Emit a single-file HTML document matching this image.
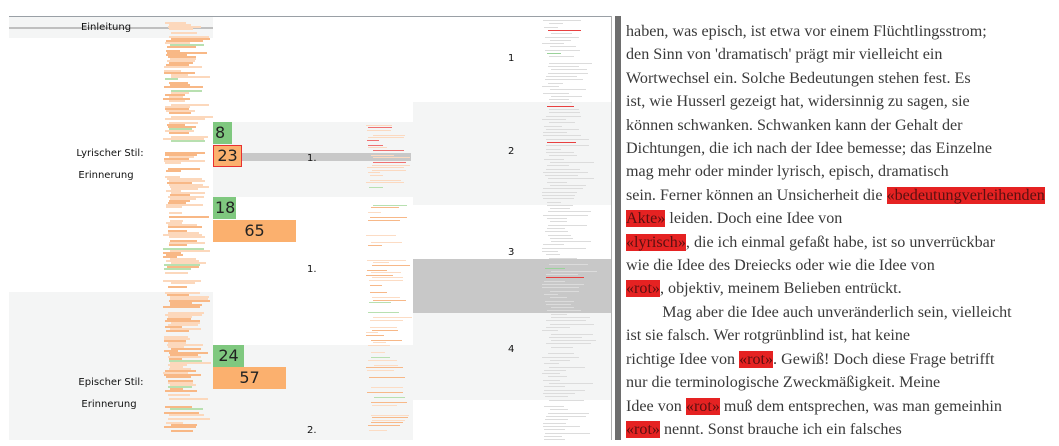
<!DOCTYPE html>
<html><head><meta charset="utf-8"><style>
html,body{margin:0;padding:0;width:1059px;height:446px;overflow:hidden;background:#fff;position:relative}
.a{position:absolute}
.lbl{font-family:"DejaVu Sans","Liberation Sans",sans-serif;font-size:10px;color:#111;text-align:center;width:120px}
.num{font-family:"DejaVu Sans","Liberation Sans",sans-serif;font-size:10px;color:#111}
.box{font-family:"DejaVu Sans","Liberation Sans",sans-serif;font-size:16px;color:#222;line-height:22px}
#txt{position:absolute;left:626px;top:20px;font-family:"Liberation Serif",serif;font-size:16.1px;line-height:23.4px;color:#3a3a3a;white-space:nowrap}
.h{background:#e52222;color:#5a1010}
</style></head><body>
<div class="a" style="left:9px;top:16px;width:602px;height:1px;background:#9aa0a6"></div>
<div class="a" style="left:9px;top:17px;width:204px;height:21px;background:#f4f5f5"></div>
<div class="a" style="left:9px;top:27px;width:204px;height:2px;background:#c0c0c0"></div>
<div class="a" style="left:213px;top:122px;width:200px;height:75px;background:#f4f5f5"></div>
<div class="a" style="left:413px;top:102px;width:198px;height:103px;background:#f4f5f5"></div>
<div class="a" style="left:9px;top:292px;width:204px;height:148px;background:#f4f5f5"></div>
<div class="a" style="left:213px;top:345px;width:200px;height:95px;background:#f4f5f5"></div>
<div class="a" style="left:413px;top:313px;width:198px;height:87px;background:#f4f5f5"></div>
<div class="a" style="left:413px;top:259px;width:198px;height:54px;background:#c8c8c8"></div>
<div class="a" style="left:242px;top:153px;width:169px;height:8px;background:#c8c8c8"></div>
<div id="sk"></div>
<div class="a box" style="left:213px;top:122px;width:17px;height:22px;background:#7fc87f;padding-left:2px">8</div>
<div class="a box" style="left:213px;top:145px;width:27px;height:20px;background:#fbb06e;border:1px solid #e83030;line-height:20px;text-align:center">23</div>
<div class="a box" style="left:213px;top:197px;width:23px;height:22px;background:#7fc87f;padding-left:2px;box-sizing:border-box">18</div>
<div class="a box" style="left:213px;top:220px;width:83px;height:22px;background:#fbb06e;text-align:center">65</div>
<div class="a box" style="left:213px;top:345px;width:31px;height:22px;background:#7fc87f;text-align:center">24</div>
<div class="a box" style="left:213px;top:367px;width:73px;height:22px;background:#fbb06e;text-align:center">57</div>
<div class="a lbl" style="left:46px;top:22px">Einleitung</div>
<div class="a lbl" style="left:50px;top:148px">Lyrischer Stil:</div>
<div class="a lbl" style="left:46px;top:170px">Erinnerung</div>
<div class="a lbl" style="left:51px;top:377px">Epischer Stil:</div>
<div class="a lbl" style="left:49px;top:399px">Erinnerung</div>
<div class="a num" style="left:307px;top:153px">1.</div>
<div class="a num" style="left:307px;top:264px">1.</div>
<div class="a num" style="left:307px;top:425px">2.</div>
<div class="a num" style="left:508px;top:53px">1</div>
<div class="a num" style="left:508px;top:146px">2</div>
<div class="a num" style="left:508px;top:247px">3</div>
<div class="a num" style="left:508px;top:344px">4</div>
<div class="a" style="left:611px;top:16px;width:1px;height:424px;background:#b0b0b0"></div>
<div class="a" style="left:615px;top:16px;width:6px;height:424px;background:#6e6e6e"></div>
<div id="txt">haben, was episch, ist etwa vor einem Flüchtlingsstrom;<br>den Sinn von 'dramatisch' prägt mir vielleicht ein<br>Wortwechsel ein. Solche Bedeutungen stehen fest. Es<br>ist, wie Husserl gezeigt hat, widersinnig zu sagen, sie<br>können schwanken. Schwanken kann der Gehalt der<br>Dichtungen, die ich nach der Idee bemesse; das Einzelne<br>mag mehr oder minder lyrisch, episch, dramatisch<br>sein. Ferner können an Unsicherheit die <span class="h">«bedeutungverleihenden</span><br><span class="h">Akte»</span> leiden. Doch eine Idee von<br><span class="h">«lyrisch»</span>, die ich einmal gefaßt habe, ist so unverrückbar<br>wie die Idee des Dreiecks oder wie die Idee von<br><span class="h">«rot»</span>, objektiv, meinem Belieben entrückt.<br>&nbsp;&nbsp;&nbsp;&nbsp;&nbsp;&nbsp;&nbsp;&nbsp;&nbsp;Mag aber die Idee auch unveränderlich sein, vielleicht<br>ist sie falsch. Wer rotgrünblind ist, hat keine<br>richtige Idee von <span class="h">«rot»</span>. Gewiß! Doch diese Frage betrifft<br>nur die terminologische Zweckmäßigkeit. Meine<br>Idee von <span class="h">«rot»</span> muß dem entsprechen, was man gemeinhin<br><span class="h">«rot»</span> nennt. Sonst brauche ich ein falsches</div>
<script>
var s=7;function r(){s=(s*16807)%2147483647;return s/2147483647;}
var h='';
function col(x0,w,y0,y1,step,ht,skip,fn){for(var y=y0;y<y1;y+=step){if(r()<skip)continue;var len=w*(0.3+0.7*r());var x=x0+r()*w*0.2;var c=fn(y);h+='<div class="a" style="left:'+x.toFixed(0)+'px;top:'+y.toFixed(0)+'px;width:'+len.toFixed(0)+'px;height:'+ht+'px;background:'+c+'"></div>';}}
col(163,42,20,432,2,1.5,0.2,function(y){var q=r();if(y<34&&q<0.6)return '#ef6b6b';if(q<0.08)return '#b8e0b0';return q<0.55?'#f8b886':'#fcd8bc';});
col(366,40,122,432,2.5,1,0.4,function(y){var q=r();if(y<170&&q<0.4)return '#ef7070';if(q<0.08)return '#b8e0b0';if(y<200)return '#fbd9c0';return q<0.5?'#f7b888':'#fcdcc4';});
col(542,46,20,440,3.3,1,0.05,function(y){var q=r();if(q<0.04)return '#e84040';if(q<0.055)return '#9ad29a';return '#dcdcdc';});
document.getElementById('sk').innerHTML=h;
</script>
</body></html>
